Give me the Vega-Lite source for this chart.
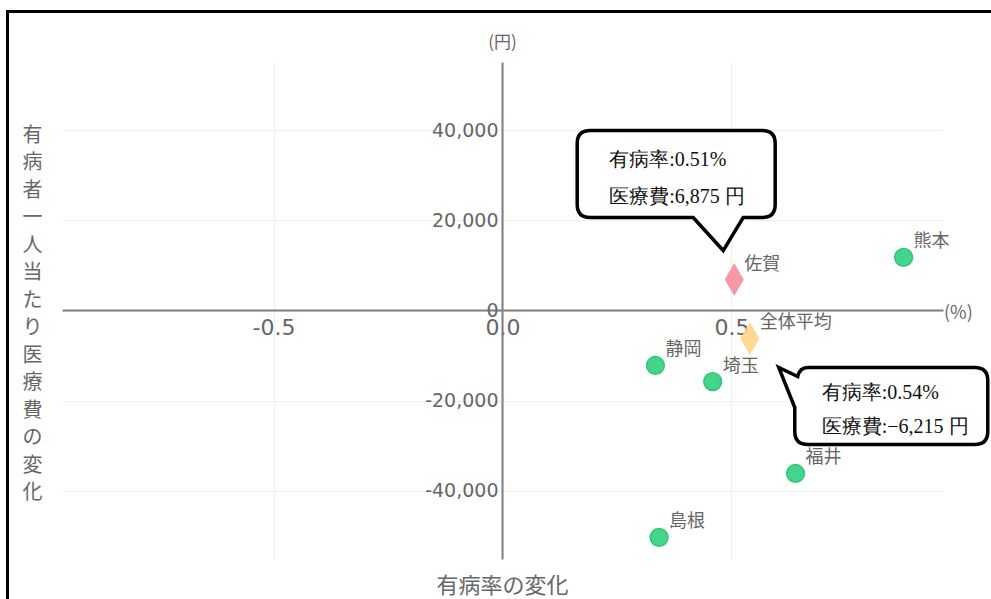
{
  "$schema": "https://vega.github.io/schema/vega-lite/v6.json",
  "width": 881,
  "height": 497,
  "autosize": {"type": "none"},
  "padding": {"left": 62, "top": 62, "right": 48, "bottom": 40},
  "background": "white",
  "config": {"view": {"stroke": null}, "font": "Noto Sans CJK JP"},
  "resolve": {"axis": {"x": "independent", "y": "independent"}},
  "data": {
    "values": [
      {"pref": "熊本", "rate": 0.876, "cost": 11800, "kind": "県"},
      {"pref": "佐賀", "rate": 0.506, "cost": 6875, "kind": "佐賀"},
      {"pref": "全体平均", "rate": 0.54, "cost": -6215, "kind": "平均"},
      {"pref": "静岡", "rate": 0.334, "cost": -12200, "kind": "県"},
      {"pref": "埼玉", "rate": 0.459, "cost": -15800, "kind": "県"},
      {"pref": "福井", "rate": 0.64, "cost": -36200, "kind": "県"},
      {"pref": "島根", "rate": 0.342, "cost": -50400, "kind": "県"}
    ]
  },
  "layer": [
    {
      "transform": [{"filter": "datum.kind === '県'"}],
      "mark": {"type": "circle", "size": 314, "fill": "#45d48b", "stroke": "#30c676", "strokeWidth": 1.5, "opacity": 1},
      "encoding": {
        "x": {
          "field": "rate", "type": "quantitative",
          "scale": {"domain": [-0.962, 0.962], "nice": false, "zero": false},
          "axis": {
            "orient": "bottom",
            "values": [-0.5, 0, 0.5],
            "labelExpr": "datum.value === 0 ? '0.0' : toString(datum.value)",
            "offset": -249,
            "ticks": false,
            "labelFont": "DejaVu Sans",
            "labelFontSize": 22,
            "labelColor": "#666",
            "labelPadding": 7,
            "labelFlush": false,
            "labelOverlap": false,
            "domainColor": "#808080",
            "domainWidth": 2,
            "gridColor": "#efefef",
            "gridWidth": 1,
            "title": "有病率の変化",
            "titleFont": "Noto Sans CJK JP",
            "titleFontSize": 22,
            "titleFontWeight": "normal",
            "titleColor": "#666",
            "titleX": 440,
            "titleY": 275,
            "titleAlign": "center",
            "titleBaseline": "middle"
          }
        },
        "y": {
          "field": "cost", "type": "quantitative",
          "scale": {"domain": [-55200, 55200], "nice": false, "zero": false},
          "axis": {
            "orient": "left",
            "values": [-40000, -20000, 0, 20000, 40000],
            "labelExpr": "replace(format(datum.value, ','), '−', '-')",
            "offset": -440,
            "ticks": false,
            "labelFont": "DejaVu Sans",
            "labelFontSize": 19,
            "labelColor": "#666",
            "labelPadding": 4,
            "labelFlush": false,
            "labelOverlap": false,
            "domainColor": "#808080",
            "domainWidth": 2,
            "gridColor": "#efefef",
            "gridWidth": 1,
            "title": ["有","病","者","一","人","当","た","り","医","療","費","の","変","化"],
            "titleFont": "Noto Sans CJK JP",
            "titleFontSize": 20,
            "titleFontWeight": "normal",
            "titleColor": "#666",
            "titleAngle": 0,
            "titleX": -470,
            "titleY": 79,
            "titleAlign": "center",
            "titleBaseline": "alphabetic",
            "titleLineHeight": 27.5
          }
        }
      }
    },
    {
      "transform": [{"filter": "datum.kind !== '県'"}],
      "mark": {"type": "point", "shape": "M0,-16.5L9.5,0L0,16.5L-9.5,0Z", "size": 4, "filled": true, "opacity": 0.95, "strokeWidth": 0},
      "encoding": {
        "x": {"field": "rate", "type": "quantitative", "axis": null},
        "y": {"field": "cost", "type": "quantitative", "axis": null},
        "color": {"field": "kind", "type": "nominal", "scale": {"domain": ["佐賀", "平均"], "range": ["#f4939f", "#ffd68c"]}, "legend": null}
      }
    },
    {
      "mark": {"type": "text", "align": "left", "baseline": "middle", "dx": 10, "dy": -15, "fontSize": 18, "color": "#666", "font": "Noto Sans CJK JP"},
      "encoding": {
        "x": {"field": "rate", "type": "quantitative", "axis": null},
        "y": {"field": "cost", "type": "quantitative", "axis": null},
        "text": {"field": "pref"}
      }
    },
    {
      "transform": [{"filter": "datum.pref === '佐賀'"}],
      "mark": {"type": "point", "shape": "M-144,-149L28,-149Q41,-149 41,-136L41,-75Q41,-62 28,-62L9,-62L-11,-29L-41,-62L-144,-62Q-157,-62 -157,-75L-157,-136Q-157,-149 -144,-149Z", "size": 4, "filled": true, "fill": "white", "fillOpacity": 1, "stroke": "black", "strokeWidth": 3.5, "strokeOpacity": 1, "opacity": 1, "strokeJoin": "miter"},
      "encoding": {
        "x": {"field": "rate", "type": "quantitative", "axis": null},
        "y": {"field": "cost", "type": "quantitative", "axis": null}
      }
    },
    {
      "transform": [{"filter": "datum.pref === '佐賀'"}],
      "mark": {"type": "text", "text": ["有病率:0.51%", "医療費:6,875 円"], "lineHeight": 37, "align": "left", "baseline": "middle", "dx": -125, "dy": -120, "fontSize": 20, "font": "Liberation Serif", "color": "#111"},
      "encoding": {
        "x": {"field": "rate", "type": "quantitative", "axis": null},
        "y": {"field": "cost", "type": "quantitative", "axis": null}
      }
    },
    {
      "transform": [{"filter": "datum.pref === '全体平均'"}],
      "mark": {"type": "point", "shape": "M58,29L225,29Q238,29 238,42L238,93Q238,106 225,106L58,106Q45,106 45,93L45,69L29,29L48,38Q50,29 58,29Z", "size": 4, "filled": true, "fill": "white", "fillOpacity": 1, "stroke": "black", "strokeWidth": 3.5, "strokeOpacity": 1, "opacity": 1, "strokeJoin": "miter"},
      "encoding": {
        "x": {"field": "rate", "type": "quantitative", "axis": null},
        "y": {"field": "cost", "type": "quantitative", "axis": null}
      }
    },
    {
      "transform": [{"filter": "datum.pref === '全体平均'"}],
      "mark": {"type": "text", "text": ["有病率:0.54%", "医療費:−6,215 円"], "lineHeight": 34, "align": "left", "baseline": "middle", "dx": 72, "dy": 55, "fontSize": 20, "font": "Liberation Serif", "color": "#111"},
      "encoding": {
        "x": {"field": "rate", "type": "quantitative", "axis": null},
        "y": {"field": "cost", "type": "quantitative", "axis": null}
      }
    },
    {
      "data": {"values": [{}]},
      "mark": {"type": "text", "text": "(円)", "align": "center", "baseline": "middle", "dy": -19, "fontSize": 17, "color": "#666", "font": "Noto Sans CJK JP"},
      "encoding": {
        "x": {"datum": 0, "type": "quantitative", "axis": null},
        "y": {"datum": 55200, "type": "quantitative", "axis": null}
      }
    },
    {
      "data": {"values": [{}]},
      "mark": {"type": "text", "text": "(%)", "align": "left", "baseline": "middle", "dx": 1, "dy": 3, "fontSize": 18, "color": "#666", "font": "Noto Sans CJK JP"},
      "encoding": {
        "x": {"datum": 0.962, "type": "quantitative", "axis": null},
        "y": {"datum": 0, "type": "quantitative", "axis": null}
      }
    },
    {
      "data": {"values": [{}]},
      "mark": {"type": "point", "shape": "M-495,400L-495,-299L600,-299", "size": 4, "filled": false, "stroke": "black", "strokeWidth": 3, "opacity": 1, "strokeOpacity": 1},
      "encoding": {
        "x": {"datum": 0, "type": "quantitative", "axis": null},
        "y": {"datum": 0, "type": "quantitative", "axis": null}
      }
    }
  ]
}
